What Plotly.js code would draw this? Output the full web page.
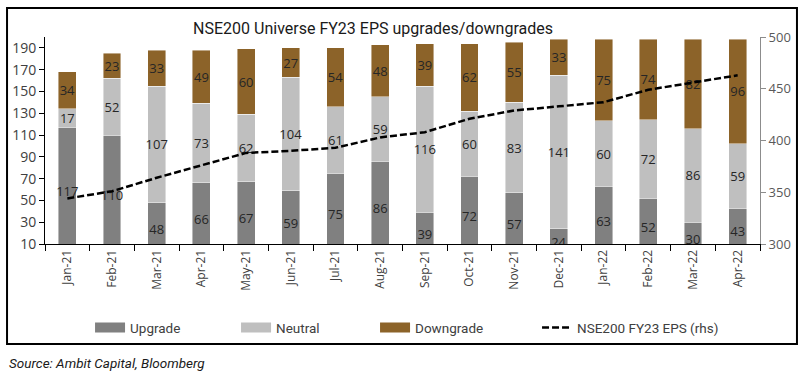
<!DOCTYPE html>
<html>
<head>
<meta charset="utf-8">
<script src="https://cdn.plot.ly/plotly-3.0.1.min.js"></script>
<style>
  html, body { margin: 0; padding: 0; background: #ffffff; }
  #chart { width: 811px; height: 379px; }
</style>
</head>
<body>
<div id="chart"></div>
<script>
const months = ["Jan-21","Feb-21","Mar-21","Apr-21","May-21","Jun-21","Jul-21","Aug-21",
                "Sep-21","Oct-21","Nov-21","Dec-21","Jan-22","Feb-22","Mar-22","Apr-22"];
const upgrade   = [117, 110, 48, 66, 67, 59, 75, 86, 39, 72, 57, 24, 63, 52, 30, 43];
const neutral   = [17, 52, 107, 73, 62, 104, 61, 59, 116, 60, 83, 141, 60, 72, 86, 59];
const downgrade = [34, 23, 33, 49, 60, 27, 54, 48, 39, 62, 55, 33, 75, 74, 82, 96];
const eps       = [344, 351, 364, 376, 388, 390, 393, 403, 408, 421, 429, 433, 437, 449, 456, 463];

const lineName = "NSE200 FY23 EPS (rhs)";
const colors = { Upgrade: "#808080", Neutral: "#bfbfbf", Downgrade: "#8c6329" };
const legendWidths = { Upgrade: 101, Neutral: 94, Downgrade: 117 };

const FONT_NUM = "Open Sans, Lato, sans-serif";
const FONT_COND = "Roboto, Lato, sans-serif";

function barTrace(name, vals) {
  return {
    type: "bar",
    name: name,
    x: months,
    y: vals,
    text: vals.map(String),
    textposition: "inside",
    insidetextanchor: "middle",
    constraintext: "none",
    textangle: 0,
    textfont: { family: FONT_NUM, size: 13, color: "#262626" },
    marker: { color: colors[name], line: { color: "rgba(255,255,255,0.55)", width: 0.8 } },
    showlegend: false,
    hoverinfo: "x+y+name",
    yaxis: "y"
  };
}

// legend-only entries (wide swatches like the reference)
function legendTrace(name) {
  return {
    type: "scatter", mode: "lines", name: name,
    x: [null], y: [null],
    line: { color: colors[name], width: 10 },
    legendwidth: legendWidths[name],
    hoverinfo: "skip"
  };
}

const traces = [
  barTrace("Upgrade", upgrade),
  barTrace("Neutral", neutral),
  barTrace("Downgrade", downgrade),
  legendTrace("Upgrade"),
  legendTrace("Neutral"),
  legendTrace("Downgrade"),
  {
    type: "scatter", mode: "lines", name: lineName,
    x: months, y: eps, yaxis: "y2",
    legendwidth: 150,
    line: { color: "#000000", width: 2.5, dash: "7px,3px" }
  }
];

const layout = {
  width: 811, height: 379,
  margin: { l: 45, r: 51, t: 37, b: 135, pad: 0 },
  paper_bgcolor: "#ffffff",
  plot_bgcolor: "#ffffff",
  barmode: "stack",
  bargap: 0.6,
  showlegend: true,
  title: {
    text: "NSE200 Universe FY23 EPS upgrades/downgrades",
    font: { family: FONT_COND, size: 16, color: "#1a1a1a", weight: 400 },
    x: 0.46, xanchor: "center",
    y: 0.925, yanchor: "middle"
  },
  xaxis: {
    type: "category",
    tickangle: -90,
    ticks: "outside", tickson: "boundaries", ticklen: 6, tickcolor: "#000",
    showline: true, linecolor: "#000", linewidth: 1,
    showgrid: false, zeroline: false,
    tickfont: { family: FONT_NUM, size: 12, color: "#404040" }
  },
  yaxis: {
    range: [10, 200],
    tick0: 10, dtick: 20,
    ticks: "outside", ticklen: 5, tickcolor: "#000",
    showline: true, linecolor: "#000", linewidth: 1,
    showgrid: false, zeroline: false,
    tickfont: { family: FONT_NUM, size: 14, color: "#404040" }
  },
  yaxis2: {
    overlaying: "y", side: "right",
    range: [300, 500], tick0: 300, dtick: 50,
    ticks: "outside", ticklen: 5, tickcolor: "#8c8c8c",
    showline: true, linecolor: "#8c8c8c", linewidth: 1,
    showgrid: false, zeroline: false,
    tickfont: { family: FONT_NUM, size: 13, color: "#595959" }
  },
  legend: {
    orientation: "h",
    x: 0.063, xanchor: "left",
    y: -0.405, yanchor: "middle",
    entrywidthmode: "pixels",
    traceorder: "normal",
    font: { family: FONT_COND, size: 13.5, color: "#404040" },
    bgcolor: "rgba(0,0,0,0)"
  },
  shapes: [{
    type: "rect", xref: "paper", yref: "paper",
    x0: -0.0531, x1: 1.0517, y0: -0.483, y1: 1.14,
    line: { color: "#000", width: 2 }, fillcolor: "rgba(0,0,0,0)", layer: "below"
  }],
  annotations: [{
    text: "<i>Source: Ambit Capital, Bloomberg</i>",
    xref: "paper", yref: "paper",
    x: -0.0531, xanchor: "left",
    y: -0.575, yanchor: "middle",
    showarrow: false,
    font: { family: FONT_COND, size: 13.5, color: "#1a1a1a" }
  }]
};

Plotly.newPlot("chart", traces, layout, { displayModeBar: false, staticPlot: true });
</script>
</body>
</html>
